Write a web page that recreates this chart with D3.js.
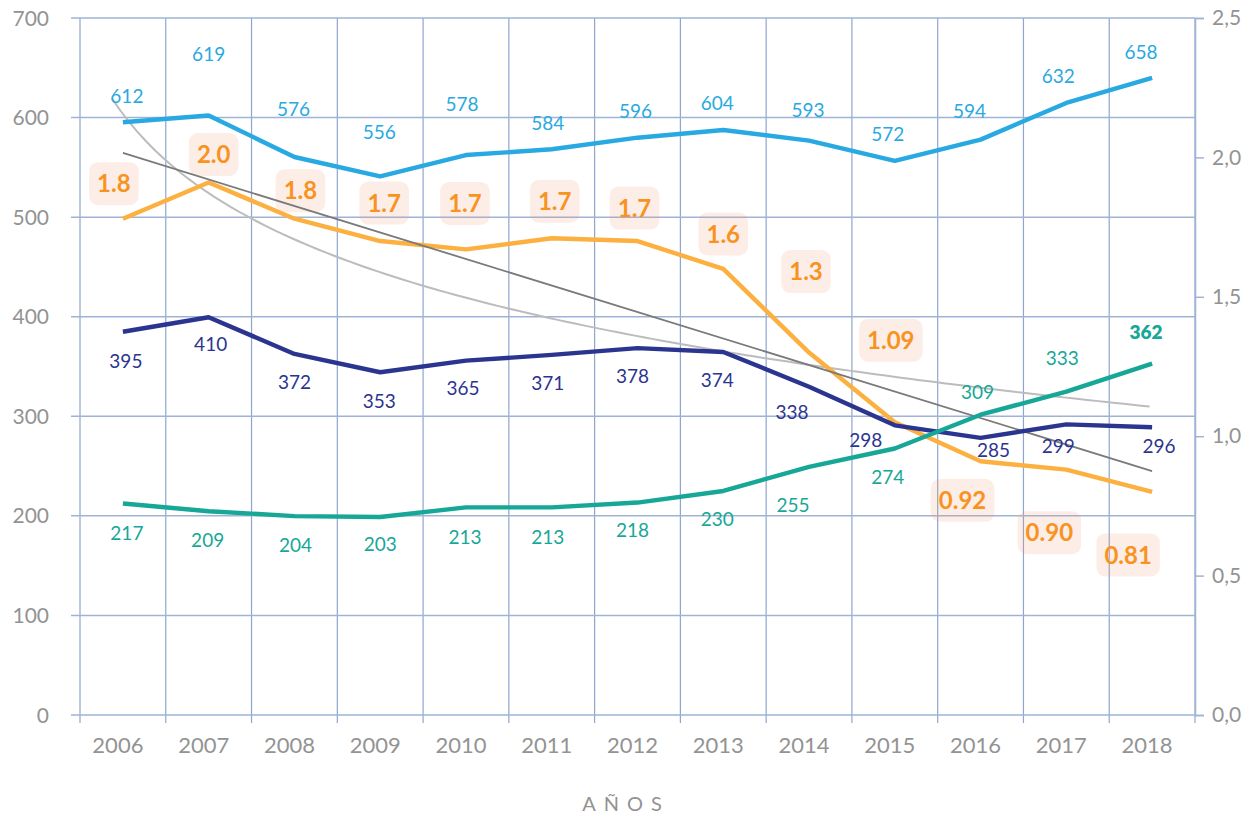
<!DOCTYPE html>
<html>
<head>
<meta charset="utf-8">
<script src="https://cdn.jsdelivr.net/npm/d3@7"></script>
<style>
  body { margin: 0; background: #fff; }
  text { font-family: Lato, "Open Sans", sans-serif; }
</style>
</head>
<body>
<svg id="chart" width="1254" height="818"></svg>
<script>
// data
var years = [2006, 2007, 2008, 2009, 2010, 2011, 2012, 2013, 2014, 2015, 2016, 2017, 2018];
var blueVals = [612, 619, 576, 556, 578, 584, 596, 604, 593, 572, 594, 632, 658];
var navyVals = [395, 410, 372, 353, 365, 371, 378, 374, 338, 298, 285, 299, 296];
var tealVals = [217, 209, 204, 203, 213, 213, 218, 230, 255, 274, 309, 333, 362];
var orangeVals = [1.78, 1.91, 1.78, 1.70, 1.67, 1.71, 1.70, 1.60, 1.30, 1.05, 0.91, 0.88, 0.80];
var orangeLabels = ["1.8", "2.0", "1.8", "1.7", "1.7", "1.7", "1.7", "1.6", "1.3", "1.09", "0.92", "0.90", "0.81"];
var leftTicks = [0, 100, 200, 300, 400, 500, 600, 700];
var rightTicks = [0, 0.5, 1, 1.5, 2, 2.5];
var axisTitle = "AÑOS";

// label nudges (px) relative to each point
var blueDx = [4, 0, -1, -1, -4, -4, -2, -6, -1, -7, -11, -8, -11];
var blueDy = [-26, -61, -48, -44, -51, -26, -27, -27, -30, -27, -28, -27, -26];
var navyDx = [3, 2, 0, -1, -3, -4, -5, -6, -17, -29, 13, -8, 7];
var navyDy = [29, 27, 28, 29, 27, 28, 28, 28, 25, 15, 12, 22, 19];
var tealDx = [4, -1, 1, 0, -1, -4, -5, -6, -16, -7, -3, -4, -6];
var tealDy = [30, 29, 29, 27, 30, 30, 28, 28, 38, 29, -23, -33, -31];
var orangeDx = [-9, 5, 6, 4, -1, 3, -3, 0, -3, -4, -18, -17, -24];
var orangeDy = [-35, -28, -28, -38, -46, -37, -33, -35, -81, -82, 39, 63, 63];

var svg = d3.select('#chart');
var plotL = 80, plotR = 1195, plotT = 18, plotB = 715;

var x = d3.scaleBand().domain(years).range([plotL, plotR]).padding(0);
var cx = function (i) { return x(years[i]) + x.bandwidth() / 2; };
var xi = d3.scaleLinear().domain([0, years.length - 1]).range([cx(0), cx(years.length - 1)]);

var yLeft = d3.scaleLinear().domain([0, 700]).range([plotB, plotT]);
var yPlot = d3.scaleLinear().domain([0, 720]).range([713, 18]);
var yRight = d3.scaleLinear().domain([0, 2.5]).range([plotB, plotT]);

var gridColor = '#9fb3d6';

// vertical grid lines at category boundaries
var vgrid = years.map(function (d) { return x(d); }).concat([plotR]);
svg.append('g').selectAll('line').data(vgrid).enter().append('line')
    .attr('x1', function (d) { return d; })
    .attr('x2', function (d) { return d; })
    .attr('y1', plotT)
    .attr('y2', plotB + 8)
    .attr('stroke', '#8ea5cf')
    .attr('stroke-width', 1.2);

// horizontal grid lines
svg.append('g').selectAll('line').data(leftTicks).enter().append('line')
    .attr('x1', plotL - 9)
    .attr('x2', plotR)
    .attr('y1', function (d) { return yLeft(d); })
    .attr('y2', function (d) { return yLeft(d); })
    .attr('stroke', gridColor)
    .attr('stroke-width', 1.5);

// left axis labels
svg.append('g').selectAll('text').data(leftTicks).enter().append('text')
    .attr('x', 49)
    .attr('y', function (d) { return yLeft(d); })
    .attr('dy', '0.36em')
    .attr('text-anchor', 'end')
    .attr('fill', '#939393')
    .style('font-size', '21px')
    .text(function (d) { return d; });

// right axis
var ra = d3.axisRight(yRight).tickValues(rightTicks).tickSize(9).tickPadding(8)
    .tickFormat(function (d) { return d3.format('.1f')(d).replace('.', ','); });
var rg = svg.append('g').attr('transform', 'translate(' + plotR + ',0)').call(ra);
rg.select('.domain').attr('stroke', gridColor).attr('stroke-width', 1.5);
rg.selectAll('.tick line').attr('stroke', gridColor).attr('stroke-width', 1.5);
rg.selectAll('.tick text').attr('fill', '#939393').style('font-size', '21px')
    .style('font-family', 'Lato, sans-serif');

// year labels
svg.append('g').selectAll('text').data(years).enter().append('text')
    .attr('x', function (d, i) { return cx(i) - 5; })
    .attr('y', 753)
    .attr('text-anchor', 'middle')
    .attr('fill', '#939393')
    .style('font-size', '22px')
    .text(function (d) { return d; });

svg.append('text')
    .attr('x', 626)
    .attr('y', 811)
    .attr('text-anchor', 'middle')
    .attr('fill', '#939393')
    .style('font-size', '20px')
    .style('letter-spacing', '8px')
    .text(axisTitle);

// orange label boxes
var boxes = svg.append('g');
orangeVals.forEach(function (v, i) {
    var px = cx(i) + orangeDx[i], py = yRight(v) + orangeDy[i];
    var t = boxes.append('text')
        .attr('x', px).attr('y', py).attr('dy', '0.36em')
        .attr('text-anchor', 'middle')
        .attr('fill', '#f7931e')
        .style('font-size', '24px')
        .style('font-weight', 700)
        .text(orangeLabels[i]);
    var w = t.node().getBBox().width + 16;
    boxes.insert('rect', 'text')
        .attr('x', px - w / 2).attr('y', py - 21.5)
        .attr('width', w).attr('height', 43)
        .attr('rx', 9)
        .attr('fill', 'rgba(245,150,110,0.17)');
});

// trend lines for the orange series
var idx = d3.range(orangeVals.length);
var mx = d3.mean(idx), my = d3.mean(orangeVals);
var slope = d3.sum(idx, function (i) { return (i - mx) * (orangeVals[i] - my); }) /
    d3.sum(idx, function (i) { return (i - mx) * (i - mx); });
var lnx = idx.map(function (i) { return Math.log(i + 1); });
var ml = d3.mean(lnx);
var b = d3.sum(idx, function (i) { return (lnx[i] - ml) * (orangeVals[i] - my); }) /
    d3.sum(idx, function (i) { return (lnx[i] - ml) * (lnx[i] - ml); });
var a = my - b * ml;

var logPts = d3.range(-0.13, 12.001, 0.1);
svg.append('path')
    .datum(logPts)
    .attr('fill', 'none')
    .attr('stroke', '#bcbcbc')
    .attr('stroke-width', 2)
    .attr('d', d3.line()
        .x(function (t) { return xi(t); })
        .y(function (t) { return yRight(a + b * Math.log(t + 1)); }));

// series lines
function drawLine(vals, scale, color) {
    svg.append('path')
        .datum(vals)
        .attr('fill', 'none')
        .attr('stroke', color)
        .attr('stroke-width', 4.4)
        .attr('stroke-linejoin', 'round')
        .attr('d', d3.line()
            .x(function (d, i) { return cx(i); })
            .y(function (d) { return scale(d); }));
}
drawLine(orangeVals, yRight, '#fbb03f');

svg.append('path')
    .datum([0, 12])
    .attr('fill', 'none')
    .attr('stroke', '#7a7a7a')
    .attr('stroke-width', 1.8)
    .attr('d', d3.line()
        .x(function (t) { return xi(t); })
        .y(function (t) { return yRight(my + slope * (t - mx)); }));

drawLine(navyVals, yPlot, '#2b3590');
drawLine(blueVals, yPlot, '#29a9e1');
drawLine(tealVals, yPlot, '#17a797');

// value labels
function drawLabels(vals, dx, dy, color, boldLast) {
    svg.append('g').selectAll('text').data(vals).enter().append('text')
        .attr('x', function (d, i) { return cx(i) + dx[i]; })
        .attr('y', function (d, i) { return yPlot(d) + dy[i]; })
        .attr('dy', '0.36em')
        .attr('text-anchor', 'middle')
        .attr('fill', color)
        .style('font-size', '19px')
        .style('font-weight', function (d, i) { return boldLast && i === vals.length - 1 ? 800 : 400; })
        .text(function (d) { return d; });
}
drawLabels(blueVals, blueDx, blueDy, '#29a9e1', false);
drawLabels(navyVals, navyDx, navyDy, '#2b3590', false);
drawLabels(tealVals, tealDx, tealDy, '#17a797', true);
</script>
</body>
</html>
